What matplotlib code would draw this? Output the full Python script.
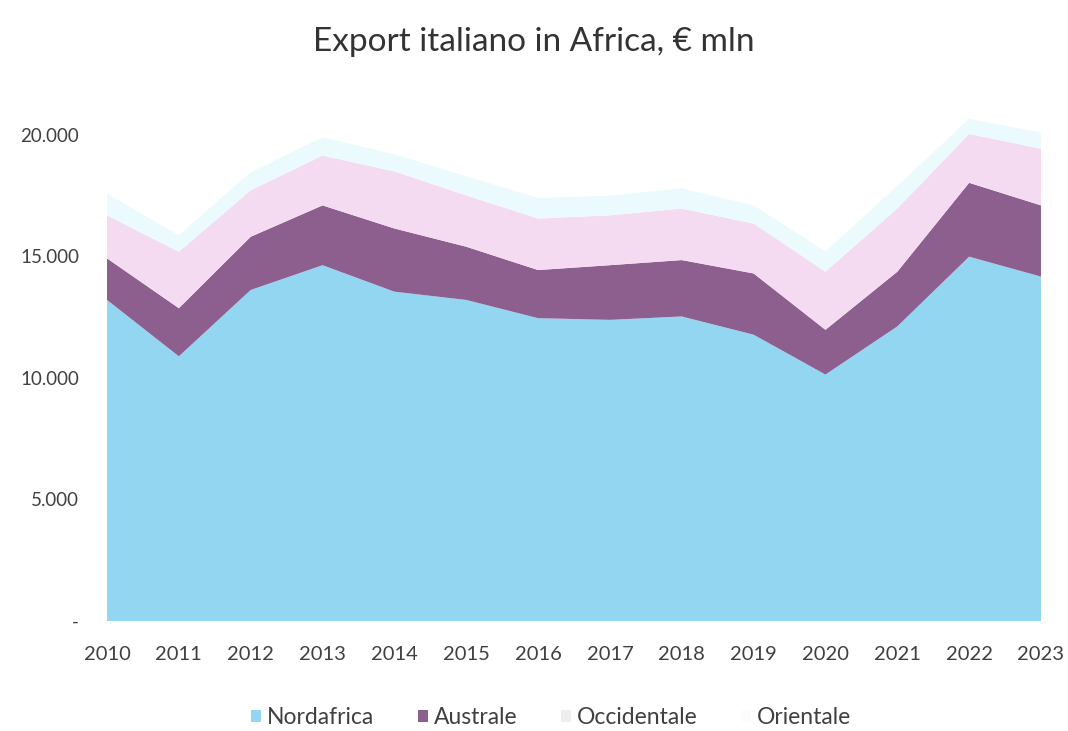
import numpy as np
import matplotlib
matplotlib.use("Agg")
import matplotlib.pyplot as plt
from matplotlib.patches import Patch
from matplotlib.ticker import FuncFormatter

plt.rcParams["font.family"] = ["Lato", "DejaVu Sans"]

# Export italiano in Africa, € mln
years = [2010, 2011, 2012, 2013, 2014, 2015, 2016,
         2017, 2018, 2019, 2020, 2021, 2022, 2023]
nordafrica = [13210, 10890, 13620, 14640, 13550, 13210, 12460,
              12390, 12530, 11780, 10140, 12120, 14990, 14170]
australe = [1710, 1980, 2190, 2460, 2600, 2190, 1980,
            2250, 2320, 2520, 1840, 2250, 3040, 2930]
occidentale = [1770, 2320, 1910, 2050, 2350, 2110, 2120,
               2050, 2120, 2050, 2390, 2600, 2010, 2330]
orientale = [890, 680, 750, 750, 700, 790, 840,
             810, 830, 750, 830, 930, 620, 670]

labels = ["Nordafrica", "Australe", "Occidentale", "Orientale"]
colors = ["#92d6f2", "#8d5f8f", "#f4dbf1", "#ebfafd"]
legend_colors = ["#92d6f2", "#8d5f8f", "#eeeeee", "#fafcfd"]

fig = plt.figure(figsize=(10.68, 7.31), dpi=100)
ax = fig.add_axes([0.1002, 0.1505, 0.8745, 0.7148])

ax.stackplot(years, nordafrica, australe, occidentale, orientale,
             colors=colors, linewidth=0)

ax.set_xlim(years[0], years[-1])
ax.set_ylim(0, 21500)
ax.set_xticks(years)
ax.set_yticks([0, 5000, 10000, 15000, 20000])


def fmt_thousands(v, pos):
    if v == 0:
        return "-"
    return "{:,.0f}".format(v).replace(",", ".")


ax.yaxis.set_major_formatter(FuncFormatter(fmt_thousands))
ax.tick_params(axis="both", length=0, colors="#404040")
ax.tick_params(axis="y", pad=20, labelsize=13.5)
ax.tick_params(axis="x", pad=18, labelsize=14.5)
for s in ax.spines.values():
    s.set_visible(False)

fig.text(0.5, 1 - 42 / 731, "Export italiano in Africa, € mln",
         ha="center", va="center", fontsize=24, color="#333333")

handles = [Patch(facecolor=c, edgecolor="none") for c in legend_colors]
fig.legend(handles, labels, loc="center", bbox_to_anchor=(0.516, 1 - 718 / 731),
           ncol=4, frameon=False, fontsize=16.5, handlelength=0.45,
           handleheight=0.45, handletextpad=0.25, columnspacing=1.9,
           labelcolor="#404040")

fig.savefig("out.png", dpi=100)
